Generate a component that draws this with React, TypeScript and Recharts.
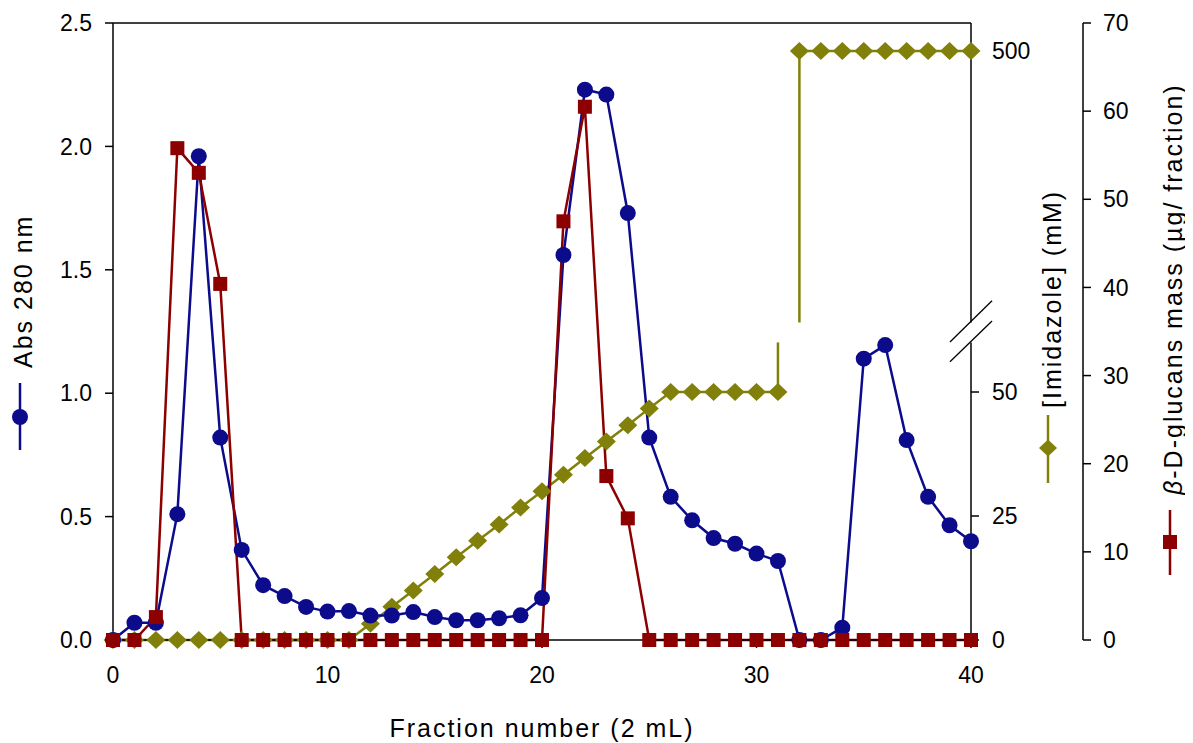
import React from 'react';
import { ComposedChart, Line, XAxis, YAxis, ReferenceLine } from 'recharts';

// ---------- data ----------
const fractions = [
  0, 1, 2, 3, 4, 5, 6, 7, 8, 9, 10, 11, 12, 13, 14, 15, 16, 17, 18, 19, 20,
  21, 22, 23, 24, 25, 26, 27, 28, 29, 30, 31, 32, 33, 34, 35, 36, 37, 38, 39, 40,
];
const abs280 = [
  0, 0.07, 0.07, 0.51, 1.96, 0.82, 0.365, 0.222, 0.178, 0.134, 0.115, 0.117, 0.099, 0.099, 0.113,
  0.093, 0.08, 0.08, 0.088, 0.1, 0.17, 1.56, 2.23, 2.21, 1.73, 0.82, 0.58, 0.485, 0.413, 0.39,
  0.35, 0.32, 0, 0, 0.05, 1.14, 1.195, 0.81, 0.58, 0.465, 0.4,
];
const imidazoleMM = [
  0, 0, 0, 0, 0, 0, 0, 0, 0, 0, 0, 0, 3.3, 6.7, 10, 13.3, 16.7, 20, 23.3, 26.7, 30,
  33.3, 36.7, 40, 43.3, 46.7, 50, 50, 50, 50, 50, 50, 500, 500, 500, 500, 500, 500, 500, 500, 500,
];
const glucansMass = [
  0, 0, 2.6, 55.8, 53.0, 40.4, 0, 0, 0, 0, 0, 0, 0, 0, 0, 0, 0, 0, 0, 0, 0,
  47.5, 60.5, 18.6, 13.8, 0, 0, 0, 0, 0, 0, 0, 0, 0, 0, 0, 0, 0, 0, 0, 0,
];

const xTicks = [0, 10, 20, 30, 40];
const absTicks = [0, 0.5, 1.0, 1.5, 2.0, 2.5];
const imidTicks = [0, 25, 50, 500];
const glucanTicks = [0, 10, 20, 30, 40, 50, 60, 70];

// broken imidazole axis: lower segment 0..60 mM, upper segment from 300 mM
const IMID_BREAK_LOW = 60;
const IMID_BREAK_HIGH = 300;
const IMID_GAP = 4;
const IMID_UPPER_SCALE = 0.27375;
const IMID_DOMAIN_MAX = 124.4;
const imidDisplay = (v: number) =>
  v <= IMID_BREAK_LOW ? v : IMID_BREAK_LOW + IMID_GAP + (v - IMID_BREAK_HIGH) * IMID_UPPER_SCALE;

const rows = fractions.map((f, i) => ({
  fraction: f,
  abs: abs280[i],
  glucan: glucansMass[i],
  imidLow: imidazoleMM[i] <= IMID_BREAK_LOW ? imidDisplay(imidazoleMM[i]) : null,
  imidHigh: imidazoleMM[i] >= IMID_BREAK_HIGH ? imidDisplay(imidazoleMM[i]) : null,
}));

const lastLowIdx = imidazoleMM.findIndex((v) => v >= IMID_BREAK_HIGH) - 1;
const stepLowX = fractions[lastLowIdx];
const stepHighX = fractions[lastLowIdx + 1];
const stepLowVal = imidazoleMM[lastLowIdx];
const stepHighVal = imidazoleMM[lastLowIdx + 1];

// ---------- styles ----------
const BLUE = '#0b0b8c';
const RED = '#8c0000';
const OLIVE = '#80800a';
const FONT = '"Liberation Sans", Arial, Helvetica, sans-serif';
const tickStyle = { fontSize: 23, fill: '#000', fontFamily: FONT };
const titleProps = { fontSize: 25, letterSpacing: 2, fontFamily: FONT, fill: '#000' };

const CircleDot = (p: any) => {
  const { cx, cy, index } = p;
  if (cx == null || cy == null || p.value == null) return <g key={`c${index}`} />;
  return <circle key={`c${index}`} cx={cx} cy={cy} r={8} fill={BLUE} />;
};
const SquareDot = (p: any) => {
  const { cx, cy, index } = p;
  if (cx == null || cy == null || p.value == null) return <g key={`s${index}`} />;
  return <rect key={`s${index}`} x={cx - 7} y={cy - 7} width={14} height={14} fill={RED} />;
};
const DiamondDot = (p: any) => {
  const { cx, cy, index } = p;
  if (cx == null || cy == null || p.value == null) return <g key={`d${index}`} />;
  return (
    <polygon
      key={`d${index}`}
      points={`${cx - 9.5},${cy} ${cx},${cy - 9} ${cx + 9.5},${cy} ${cx},${cy + 9}`}
      fill={OLIVE}
    />
  );
};

const XTitle = () => (
  <text x={534} y={729} textAnchor="middle" {...titleProps}>
    Fraction number (2 mL)
  </text>
);

const AbsTitle = () => (
  <g>
    <text x={24} y={360} transform="rotate(-90 24 360)" {...titleProps}>
      Abs 280 nm
    </text>
    <line x1={12} y1={375} x2={12} y2={442} stroke={BLUE} strokeWidth={2.5} />
    <circle cx={12} cy={409} r={8} fill={BLUE} />
  </g>
);

const ImidTitle = () => (
  <g>
    <text x={1053} y={400} transform="rotate(-90 1053 400)" {...titleProps}>
      [Imidazole] (mM)
    </text>
    <line x1={1040} y1={407} x2={1040} y2={475} stroke={OLIVE} strokeWidth={2.5} />
    <polygon points="1031,440 1040,431.5 1049,440 1040,448.5" fill={OLIVE} />
  </g>
);

const GlucanTitle = () => (
  <g>
    <text x={1174} y={487} transform="rotate(-90 1174 487)" {...titleProps}>
      <tspan fontStyle="italic">β</tspan>-D-glucans mass (µg/ fraction)
    </text>
    <line x1={1162} y1={502} x2={1162} y2={567} stroke={RED} strokeWidth={2.5} />
    <rect x={1155} y={527} width={14} height={14} fill={RED} />
  </g>
);

export default function App() {
  return (
    <ComposedChart
      width={1185}
      height={735}
      data={rows}
      margin={{ top: 15, right: 0, bottom: 0, left: 0 }}
    >
      <XAxis
        dataKey="fraction"
        type="number"
        domain={[0, 40]}
        ticks={xTicks}
        height={103}
        tickSize={8}
        tickMargin={19}
        stroke="#000"
        strokeWidth={1.5}
        tick={tickStyle}
        label={<XTitle />}
      />
      <YAxis
        yAxisId="a_abs"
        domain={[0, 2.5]}
        ticks={absTicks}
        width={105}
        tickSize={8}
        tickMargin={13}
        stroke="#000"
        strokeWidth={1.5}
        tick={tickStyle}
        tickFormatter={(v: number) => v.toFixed(1)}
        label={<AbsTitle />}
      />
      <YAxis
        yAxisId="b_imid"
        orientation="right"
        domain={[0, IMID_DOMAIN_MAX]}
        ticks={imidTicks.map(imidDisplay)}
        width={112}
        tickSize={8}
        tickMargin={13}
        axisLine={false}
        stroke="#000"
        strokeWidth={1.5}
        tick={tickStyle}
        tickFormatter={(d: number) => {
          const i = imidTicks.findIndex((t) => Math.abs(imidDisplay(t) - d) < 1e-6);
          return i >= 0 ? String(imidTicks[i]) : '';
        }}
        label={<ImidTitle />}
      />
      <YAxis
        yAxisId="c_glu"
        orientation="right"
        domain={[0, 70]}
        ticks={glucanTicks}
        width={110}
        tickSize={8}
        tickMargin={12}
        stroke="#000"
        strokeWidth={1.5}
        tick={tickStyle}
        label={<GlucanTitle />}
      />

      {/* plot frame: top border and broken right border */}
      <ReferenceLine yAxisId="a_abs" y={2.5} stroke="#000" strokeWidth={1.5} ifOverflow="visible" />
      <ReferenceLine
        yAxisId="b_imid"
        segment={[{ x: 40, y: 0 }, { x: 40, y: imidDisplay(IMID_BREAK_LOW) }]}
        stroke="#000"
        strokeWidth={1.5}
        ifOverflow="visible"
      />
      <ReferenceLine
        yAxisId="b_imid"
        segment={[{ x: 40, y: IMID_BREAK_LOW + IMID_GAP }, { x: 40, y: IMID_DOMAIN_MAX }]}
        stroke="#000"
        strokeWidth={1.5}
        ifOverflow="visible"
      />
      {/* break marks */}
      <ReferenceLine
        yAxisId="b_imid"
        segment={[{ x: 39.02, y: 60.1 }, { x: 40.98, y: 68.4 }]}
        stroke="#000"
        strokeWidth={1.3}
        ifOverflow="visible"
      />
      <ReferenceLine
        yAxisId="b_imid"
        segment={[{ x: 39.02, y: 56.1 }, { x: 40.98, y: 64.3 }]}
        stroke="#000"
        strokeWidth={1.3}
        ifOverflow="visible"
      />

      {/* imidazole step across the axis break */}
      <ReferenceLine
        yAxisId="b_imid"
        segment={[{ x: stepLowX, y: imidDisplay(stepLowVal) }, { x: stepLowX, y: imidDisplay(IMID_BREAK_LOW) }]}
        stroke={OLIVE}
        strokeWidth={2.5}
        ifOverflow="visible"
      />
      <ReferenceLine
        yAxisId="b_imid"
        segment={[{ x: stepHighX, y: IMID_BREAK_LOW + IMID_GAP }, { x: stepHighX, y: imidDisplay(stepHighVal) }]}
        stroke={OLIVE}
        strokeWidth={2.5}
        ifOverflow="visible"
      />

      <Line
        yAxisId="b_imid"
        dataKey="imidLow"
        stroke={OLIVE}
        strokeWidth={2.5}
        dot={DiamondDot}
        activeDot={false}
        connectNulls={false}
        isAnimationActive={false}
      />
      <Line
        yAxisId="b_imid"
        dataKey="imidHigh"
        stroke={OLIVE}
        strokeWidth={2.5}
        dot={DiamondDot}
        activeDot={false}
        connectNulls={false}
        isAnimationActive={false}
      />
      <Line
        yAxisId="a_abs"
        dataKey="abs"
        stroke={BLUE}
        strokeWidth={2.5}
        dot={CircleDot}
        activeDot={false}
        isAnimationActive={false}
      />
      <Line
        yAxisId="c_glu"
        dataKey="glucan"
        stroke={RED}
        strokeWidth={2.5}
        dot={SquareDot}
        activeDot={false}
        isAnimationActive={false}
      />
    </ComposedChart>
  );
}
